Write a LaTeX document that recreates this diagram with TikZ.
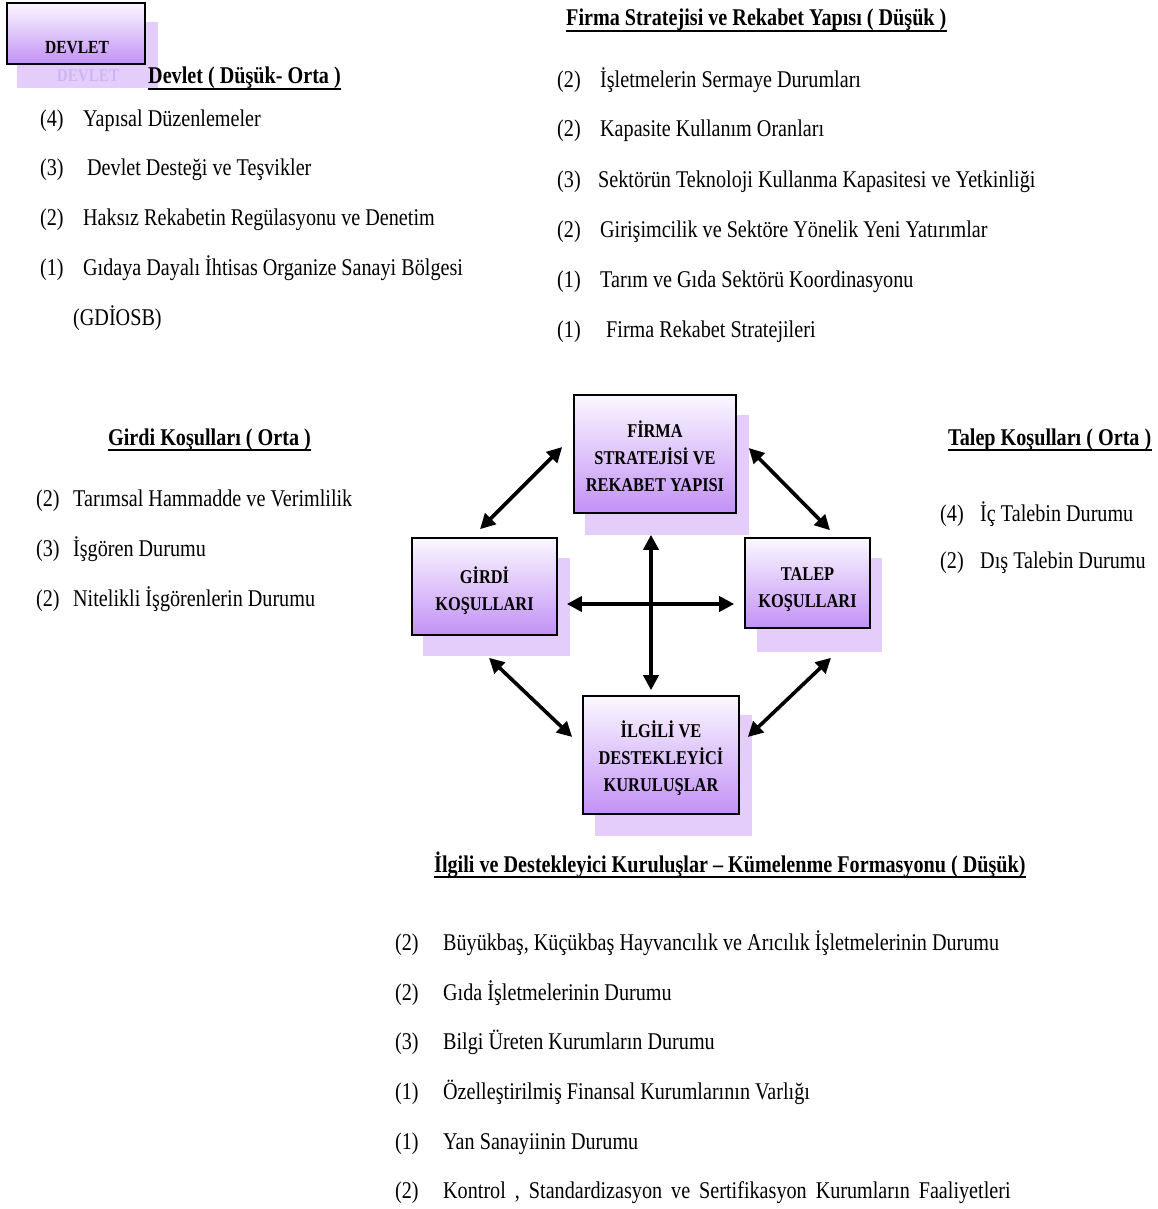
\documentclass[tikz,border=0pt]{standalone}
\usepackage{fontspec}
\setmainfont{Liberation Serif}[FakeStretch=0.84]
\usetikzlibrary{arrows.meta}
\definecolor{bxtop}{HTML}{FBF8FF}
\definecolor{bxbot}{HTML}{C291F5}
\definecolor{shd}{HTML}{E4CDFB}
\definecolor{ghost}{HTML}{CFB6F2}
\newcommand{\itm}[3]{\makebox[#1pt][l]{#2}#3}
\tikzset{
  txt/.style={anchor=base west, inner sep=0pt, font=\fontsize{24}{28}\selectfont},
  hd/.style={anchor=base west, inner sep=0pt, font=\fontsize{24}{28}\selectfont\bfseries},
  box/.style={draw=black, line width=1.6pt, top color=bxtop, bottom color=bxbot, inner sep=0pt},
  boxtxt/.style={align=center, inner sep=0pt, font=\fontsize{19.5}{27}\selectfont\bfseries},
  shadowbox/.style={fill=shd, draw=none, inner sep=0pt},
  arr/.style={line width=3.6pt, {Triangle[length=15pt,width=15pt]}-{Triangle[length=15pt,width=15pt]}},
  uline/.style={line width=1.6pt},
}
\begin{document}
\begin{tikzpicture}[x=1pt,y=-1pt]
\useasboundingbox[fill=white] (0,0) rectangle (1157,1209);

% ---- DEVLET box ----
\node[shadowbox, minimum width=141pt, minimum height=66pt] (dvs) at (87.5,55) {};
\node[text=ghost, font=\fontsize{18}{22}\selectfont\bfseries] (dvg) at (88,76) {DEVLET};
\node[box, minimum width=138pt, minimum height=61pt] (dv) at (76,33.5) {};
\node[font=\fontsize{18.5}{22}\selectfont\bfseries] (dvt) at (77,48) {DEVLET};

% ---- headings ----
\node[hd] (h1) at (148,84) {Devlet ( Düşük- Orta )};
\node[hd] (h2) at (566,26) {Firma Stratejisi ve Rekabet Yapısı ( Düşük )};
\node[hd] (h3) at (108,445) {Girdi Koşulları ( Orta )};
\node[hd] (h4) at (948,445) {Talep Koşulları ( Orta )};
\node[hd] (h5) at (434,872) {İlgili ve Destekleyici Kuruluşlar – Kümelenme Formasyonu ( Düşük)};
\foreach \h in {h1,h2,h3,h4,h5}{
  \draw[uline] ([shift={(0,5)}]\h.base west) -- ([shift={(0,5)}]\h.base east);
}

% ---- Devlet list ----
\node[txt] (d1) at (40,127) {\itm{43}{(4)}{Yapısal Düzenlemeler}};
\node[txt] (d2) at (40,176) {\itm{47}{(3)}{Devlet Desteği ve Teşvikler}};
\node[txt] (d3) at (40,225) {\itm{43}{(2)}{Haksız Rekabetin Regülasyonu ve Denetim}};
\node[txt] (d4) at (40,275) {\itm{43}{(1)}{Gıdaya Dayalı İhtisas Organize Sanayi Bölgesi}};
\node[txt] (d5) at (73,325) {(GDİOSB)};

% ---- Firma list ----
\node[txt] (f1) at (557,88) {\itm{43}{(2)}{İşletmelerin Sermaye Durumları}};
\node[txt] (f2) at (557,137) {\itm{43}{(2)}{Kapasite Kullanım Oranları}};
\node[txt] (f3) at (557,187) {\itm{41}{(3)}{Sektörün Teknoloji Kullanma Kapasitesi ve Yetkinliği}};
\node[txt] (f4) at (557,237) {\itm{43}{(2)}{Girişimcilik ve Sektöre Yönelik Yeni Yatırımlar}};
\node[txt] (f5) at (557,287) {\itm{43}{(1)}{Tarım ve Gıda Sektörü Koordinasyonu}};
\node[txt] (f6) at (557,337) {\itm{49}{(1)}{Firma Rekabet Stratejileri}};

% ---- Girdi list ----
\node[txt] (g1) at (36,506) {\itm{37}{(2)}{Tarımsal Hammadde ve Verimlilik}};
\node[txt] (g2) at (36,556) {\itm{37}{(3)}{İşgören Durumu}};
\node[txt] (g3) at (36,606) {\itm{37}{(2)}{Nitelikli İşgörenlerin Durumu}};

% ---- Talep list ----
\node[txt] (t1) at (940,521) {\itm{40}{(4)}{İç Talebin Durumu}};
\node[txt] (t2) at (940,568) {\itm{40}{(2)}{Dış Talebin Durumu}};

% ---- Ilgili list ----
\node[txt] (i1) at (395,950) {\itm{48}{(2)}{Büyükbaş, Küçükbaş Hayvancılık ve Arıcılık İşletmelerinin Durumu}};
\node[txt] (i2) at (395,1000) {\itm{48}{(2)}{Gıda İşletmelerinin Durumu}};
\node[txt] (i3) at (395,1049) {\itm{48}{(3)}{Bilgi Üreten Kurumların Durumu}};
\node[txt] (i4) at (395,1099) {\itm{48}{(1)}{Özelleştirilmiş Finansal Kurumlarının Varlığı}};
\node[txt] (i5) at (395,1149) {\itm{48}{(1)}{Yan Sanayiinin Durumu}};
\node[txt] (i6) at (395,1198) {\itm{48}{(2)}{{\spaceskip=9pt\relax Kontrol , Standardizasyon ve Sertifikasyon Kurumların Faaliyetleri}}};

% ---- diamond boxes: shadows ----
\node[shadowbox, minimum width=164pt, minimum height=120pt] (fss) at (667,475) {};
\node[shadowbox, minimum width=147pt, minimum height=98pt] (gds) at (496.5,607) {};
\node[shadowbox, minimum width=125pt, minimum height=94pt] (tls) at (819.5,605) {};
\node[shadowbox, minimum width=157pt, minimum height=121pt] (igs) at (673.5,775.5) {};

% ---- boxes ----
\node[box, minimum width=162pt, minimum height=118pt] (fs) at (655,454) {};
\node[box, minimum width=145pt, minimum height=97pt] (gd) at (484.5,586.5) {};
\node[box, minimum width=125pt, minimum height=90pt] (tl) at (807.5,583) {};
\node[box, minimum width=156pt, minimum height=118pt] (ig) at (661,755) {};
\node[boxtxt] (fst) at ([shift={(0,2.5)}]fs.center) {FİRMA\\STRATEJİSİ VE\\REKABET YAPISI};
\node[boxtxt] (gdt) at ([shift={(0,4)}]gd.center) {GİRDİ\\KOŞULLARI};
\node[boxtxt] (tlt) at ([shift={(0,7)}]tl.center) {TALEP\\KOŞULLARI};
\node[boxtxt] (igt) at ([shift={(0,3)}]ig.center) {İLGİLİ VE\\DESTEKLEYİCİ\\KURULUŞLAR};

% ---- arrows ----
\draw[arr] ([shift={(-11,-7)}]fs.west) -- ([shift={(-4.5,-8)}]gd.north);
\draw[arr] ([shift={(12,-6)}]fs.east) -- ([shift={(22.5,-7)}]tl.north);
\draw[arr] ([shift={(-4,21)}]fs.south) -- ([shift={(-10,-5)}]ig.north);
\draw[arr] ([shift={(9,17.5)}]gd.east) -- ([shift={(-10,21)}]tl.west);
\draw[arr] ([shift={(4.5,22)}]gd.south) -- ([shift={(-10,-18)}]ig.west);
\draw[arr] ([shift={(23.5,29)}]tl.south) -- ([shift={(8,-18)}]ig.east);
\end{tikzpicture}
\end{document}
